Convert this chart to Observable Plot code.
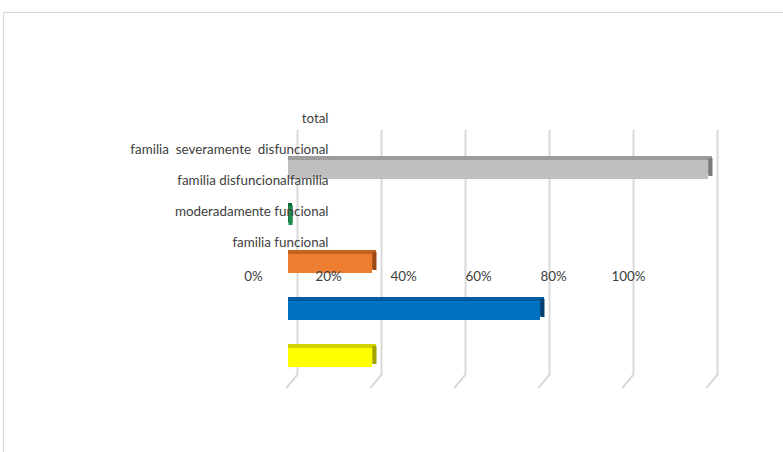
<!DOCTYPE html>
<html>
<head>
<meta charset="utf-8">
<script src="https://cdn.jsdelivr.net/npm/d3@7"></script>
<script src="https://cdn.jsdelivr.net/npm/@observablehq/plot@0.6"></script>
<style>
  html, body { margin: 0; padding: 0; background: #fff; }
  #wrap { position: relative; width: 783px; height: 452px; overflow: hidden; background: #fff; }
  #frame { position: absolute; left: 3px; top: 12px; width: 900px; height: 600px; border: 1px solid #d9d9d9; box-sizing: border-box; }
  #wrap svg { position: absolute; left: 0; top: 0; background: transparent; }
</style>
</head>
<body>
<div id="wrap"><div id="frame"></div></div>
<script>
// Categories (bars, top to bottom) and their values (%)
const categories = ["total", "familia severamente disfuncional", "familia disfuncional", "familia moderadamente funcional", "familia funcional"];
const values = [100, 0, 20, 60, 20];
const frontColors = ["#bfbfbf", "#1f8a4c", "#ed7d31", "#0070c0", "#ffff00"];
const topColors = ["#9c9c9c", "#0f6a36", "#c2621f", "#005a9e", "#d2d200"];
const sideColors = ["#7a7a7a", "#0f6a36", "#9c4a12", "#003f70", "#a3a300"];

// Category labels as they appear in the chart (misaligned text block)
const labelTexts = ["total", "familia  severamente  disfuncional", "familia disfuncionalfamilia", "moderadamente funcional", "familia funcional"];

// Tick values of the value axis
const tickValues = [0, 20, 40, 60, 80, 100];

const data = categories.map((c, i) => ({cat: c, value: values[i], front: frontColors[i], top: topColors[i], side: sideColors[i]}));

const font = "Lato, 'Open Sans', sans-serif";

// Layer 1: 3D-style bars and back-wall gridlines
const floorShape = {draw(context, l) { context.moveTo(0, 0); context.lineTo(0, -l); }};
const bars = Plot.plot({
  width: 783,
  height: 452,
  marginLeft: 288,
  marginRight: 75,
  marginTop: 144,
  marginBottom: 70,
  style: {background: "transparent"},
  x: {domain: [0, 100], axis: null},
  y: {domain: categories, paddingInner: 0.6, paddingOuter: 0.3, axis: null},
  color: {type: "identity"},
  marks: [
    Plot.ruleX(tickValues, {x: d => d, dx: 9, stroke: "#d9d9d9", strokeWidth: 2, insetTop: -14, insetBottom: 8}),
    Plot.vector(tickValues, {x: d => d, frameAnchor: "bottom", dx: 9, dy: -8, length: 17, rotate: 220, anchor: "start", shape: floorShape, stroke: "#d9d9d9", strokeWidth: 2}),
    Plot.barX(data, {x: "value", y: "cat", fill: "top", dx: 4, dy: -4, insetLeft: -4}),
    Plot.tickX(data, {x: "value", y: "cat", stroke: "side", strokeWidth: 4, dx: 2, dy: -2, insetBottom: 1}),
    Plot.barX(data, {x: "value", y: "cat", fill: "front"}),
    Plot.tickX(data.filter(d => d.value === 0), {x: "value", y: "cat", stroke: "front", strokeWidth: 4, dx: 2, dy: -1})
  ]
});

// Layer 2: labels (category texts and percentage tick labels), drawn on top
const labels = Plot.plot({
  width: 783,
  height: 452,
  marginLeft: 253,
  marginRight: 155,
  marginTop: 102.5,
  marginBottom: 194.5,
  style: {fontFamily: font, fontSize: "13.4px", color: "#404040", background: "transparent"},
  x: {domain: [0, 100], label: null},
  y: {type: "band", domain: labelTexts, padding: 0, axis: null},
  marks: [
    Plot.axisX(tickValues, {anchor: "bottom", tickSize: 0, tickPadding: 13, tickFormat: d => d + "%", label: null, fill: "#404040"}),
    Plot.text(labelTexts, {y: d => d, text: d => d, frameAnchor: "left", textAnchor: "end", dx: 75, fill: "#404040"})
  ]
});

const wrap = document.getElementById("wrap");
wrap.appendChild(bars);
wrap.appendChild(labels);
</script>
</body>
</html>
